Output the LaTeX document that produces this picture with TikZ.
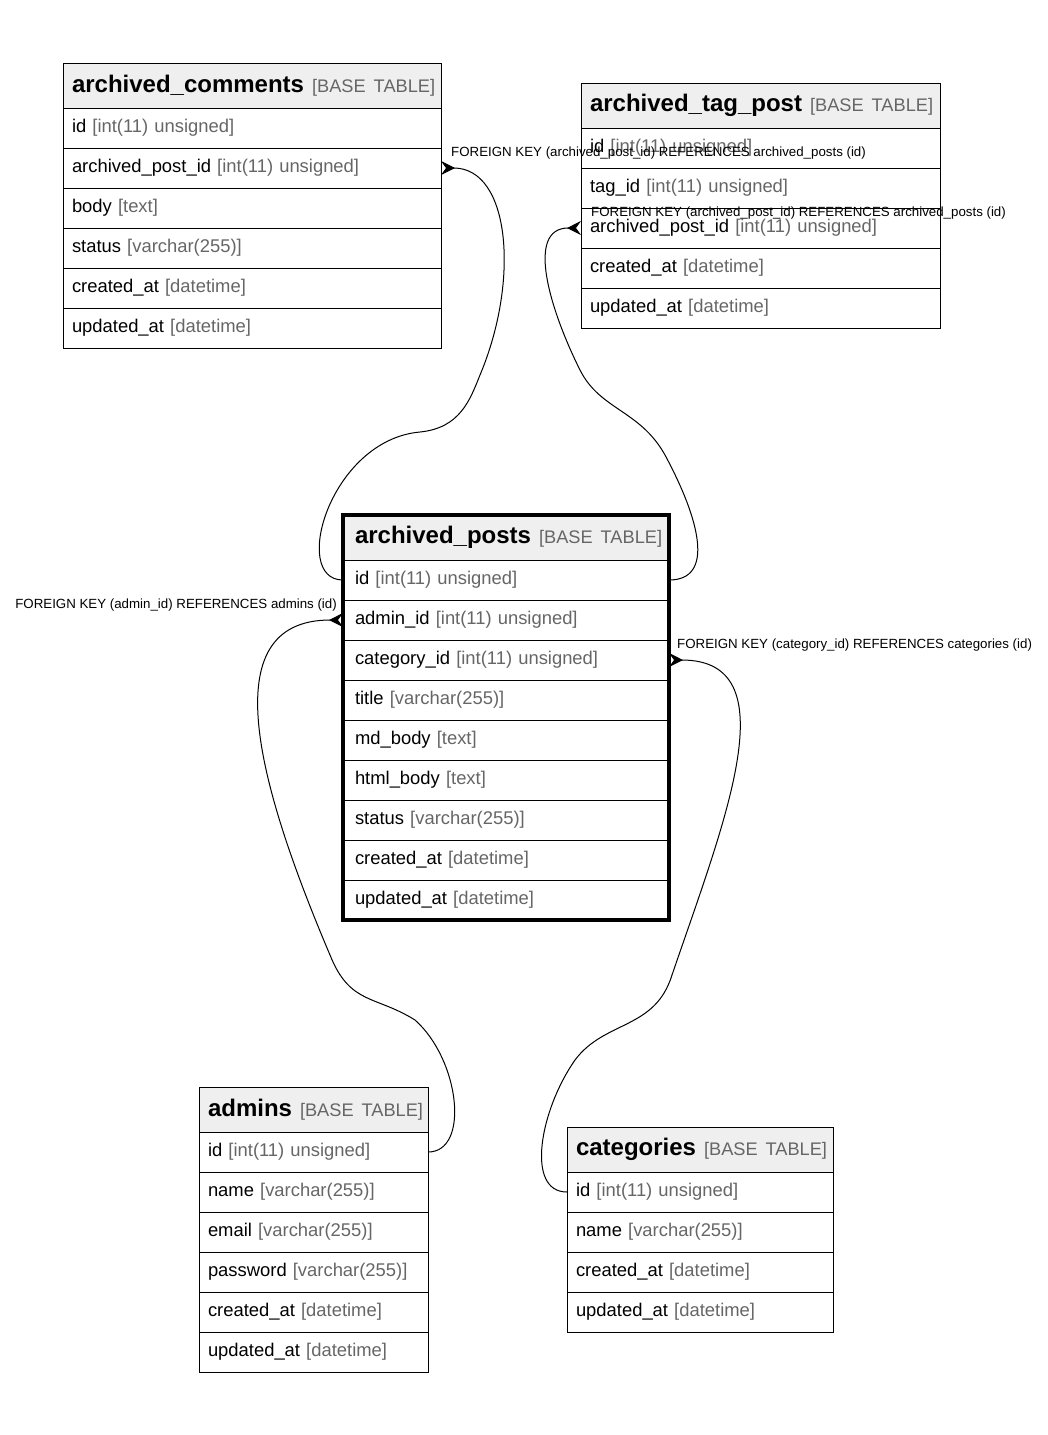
\documentclass[tikz,border=0pt]{standalone}
\usepackage{fontspec}
\setmainfont{Liberation Sans}
\usetikzlibrary{arrows.meta}
\usetikzlibrary{positioning}

\definecolor{headgray}{HTML}{EFEFEF}
\definecolor{typegray}{HTML}{666666}

\newcommand{\rowfont}{\fontsize{18.4}{22}\selectfont}

% one table: [extra keys], name, north west corner, text width, title, rows
\newcommand{\ertable}[6][]{%
  \node[tblhead, text width=#4, #1] (#2-0) at #3 {\mbox{#5 {\fontsize{18.2}{22}\selectfont\mdseries\color{typegray}[BASE TABLE]}}};
  \foreach \col/\typ [count=\i] in {#6} {
    \pgfmathtruncatemacro{\j}{\i-1}
    \node[tblrow, text width=#4, #1, below=0pt of #2-\j] (#2-\i) {\mbox{\col\ \textcolor{typegray}{[\typ]}}};
  }%
}

\begin{document}
\begin{tikzpicture}[x=1pt,y=-1pt]

    % Define styles
    \tikzset{
      tblhead/.style={rectangle, draw, line width=1pt, fill=headgray, anchor=north west,
        minimum height=45pt, inner xsep=9pt, inner ysep=0pt, outer sep=0pt,
        font=\fontsize{24}{28}\selectfont\bfseries},
      tblrow/.style={rectangle, draw, line width=1pt, fill=white,
        minimum height=40pt, inner xsep=9pt, inner ysep=0pt, outer sep=0pt,
        font=\rowfont},
      fklink/.style={line width=1pt, -{Stealth[reversed, length=14pt, width=14pt, inset=5pt]}},
      fklabel/.style={font=\fontsize{13.3}{15}\selectfont, inner sep=0pt}
    }

    \useasboundingbox (0,0) rectangle (1047,1435);

    % Tables
    \ertable{ac}{(63,63)}{360pt}{archived\_comments}{id/int(11) unsigned, archived\_post\_id/int(11) unsigned,
      body/text, status/varchar(255), created\_at/datetime, updated\_at/datetime}
    \ertable{atp}{(581,83)}{341pt}{archived\_tag\_post}{id/int(11) unsigned, tag\_id/int(11) unsigned,
      archived\_post\_id/int(11) unsigned, created\_at/datetime, updated\_at/datetime}
    \ertable[inner xsep=12pt]{ap}{(343,515)}{302pt}{archived\_posts}{id/int(11) unsigned, admin\_id/int(11) unsigned,
      category\_id/int(11) unsigned, title/varchar(255), md\_body/text, html\_body/text,
      status/varchar(255), created\_at/datetime, updated\_at/datetime}
    \ertable{ad}{(199,1087)}{211pt}{admins}{id/int(11) unsigned, name/varchar(255), email/varchar(255),
      password/varchar(255), created\_at/datetime, updated\_at/datetime}
    \ertable{cat}{(567,1127)}{248pt}{categories}{id/int(11) unsigned, name/varchar(255),
      created\_at/datetime, updated\_at/datetime}

    \draw[line width=4pt] (ap-0.north west) rectangle (ap-9.south east);

    % Foreign keys
    \draw[fklink] (ap-1.west) .. controls (290,580) and (330,440) .. (420,432)
      .. controls (460,428) and (470,400) .. (480,375)
      .. controls (520,280) and (510,168) .. (ac-2.east);
    \draw[fklink] (ap-1.east) .. controls (715,580) and (700,520) .. (665,455)
      .. controls (640,410) and (600,410) .. (580,370)
      .. controls (550,310) and (525,228) .. (atp-3.west);
    \draw[fklink] (ad-1.east) .. controls (470,1152) and (460,1060) .. (415,1020)
      .. controls (375,995) and (350,1005) .. (330,955)
      .. controls (260,790) and (210,620) .. (ap-2.west);
    \draw[fklink] (cat-1.west) .. controls (525,1192) and (540,1110) .. (575,1060)
      .. controls (605,1020) and (655,1030) .. (672,975)
      .. controls (725,820) and (790,660) .. (ap-3.east);

    % Labels
    \node[fklabel, anchor=west] (fk-ac) at (451,153) {FOREIGN KEY (archived\_post\_id) REFERENCES archived\_posts (id)};
    \node[fklabel, anchor=west] (fk-atp) at (591,213) {FOREIGN KEY (archived\_post\_id) REFERENCES archived\_posts (id)};
    \node[fklabel, anchor=east] (fk-ad) at (337,605) {FOREIGN KEY (admin\_id) REFERENCES admins (id)};
    \node[fklabel, anchor=west] (fk-cat) at (677,645) {FOREIGN KEY (category\_id) REFERENCES categories (id)};

\end{tikzpicture}
\end{document}
